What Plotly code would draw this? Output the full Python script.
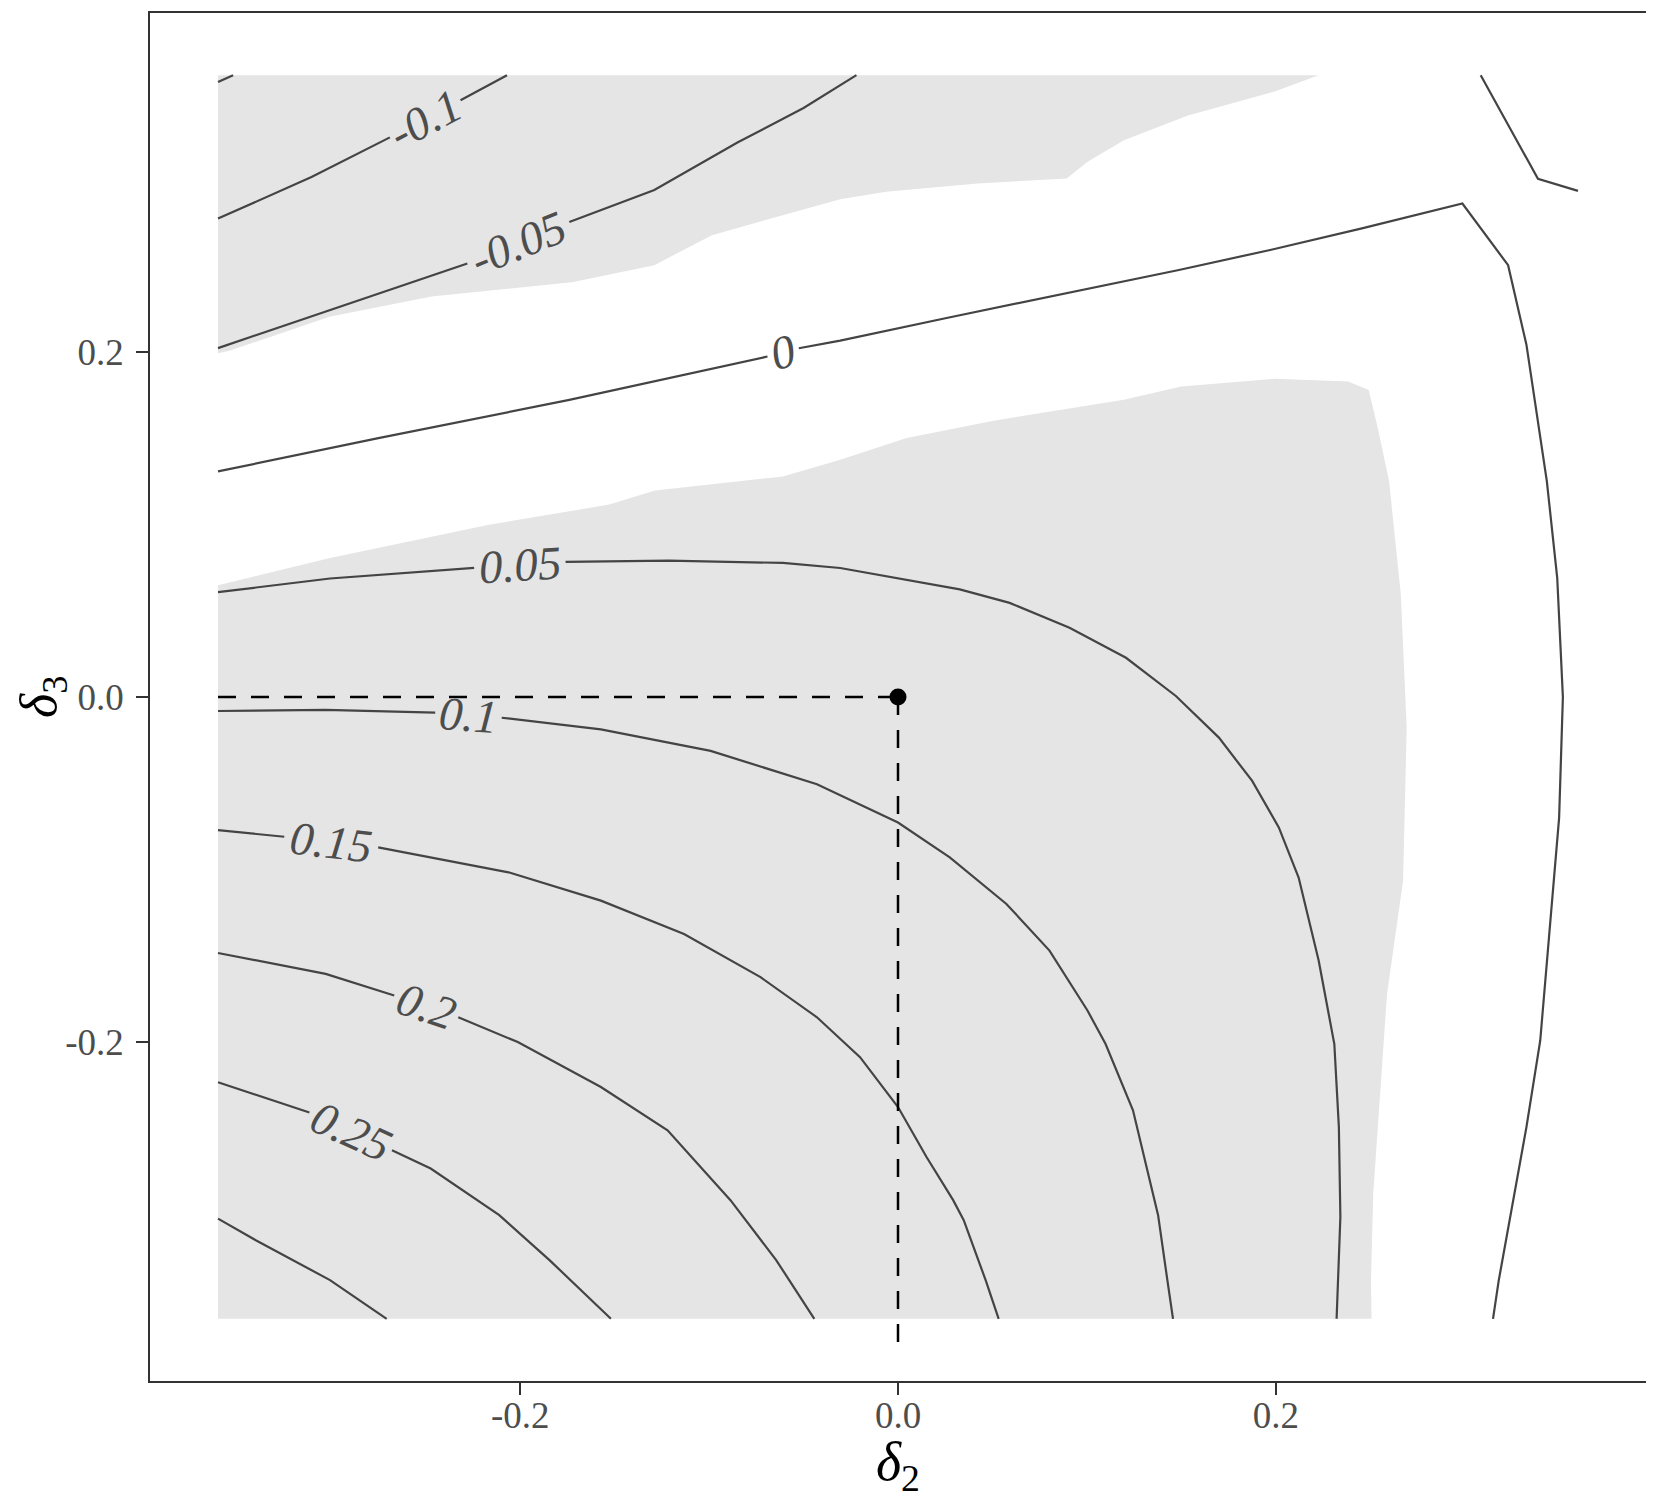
import math
import plotly.graph_objects as go

# gray regions (delta2, delta3)
upper_region_x = [-0.36, 0.2226, 0.1995, 0.1535, 0.1196, 0.1002, 0.0893, 0.0421, -0.0064,
                  -0.0306, -0.0985, -0.129, -0.1727, -0.2469, -0.301, -0.354, -0.36]
upper_region_y = [0.36, 0.36, 0.3506, 0.3367, 0.3224, 0.3098, 0.3002, 0.2973, 0.2925,
                  0.2882, 0.2674, 0.25, 0.2401, 0.2318, 0.2202, 0.2004, 0.199]

lower_region_x = [-0.36, -0.36, -0.3007, -0.2159, -0.1529, -0.1287, -0.0609, -0.0306, 0.0046,
                  0.0506, 0.1196, 0.1499, 0.1995, 0.2383, 0.2492, 0.254, 0.26, 0.2662,
                  0.2693, 0.2674, 0.2589, 0.2516, 0.2504, 0.2507]
lower_region_y = [-0.36, 0.0647, 0.0805, 0.0998, 0.1114, 0.1195, 0.1277, 0.1373, 0.1499,
                  0.16, 0.1721, 0.1798, 0.1842, 0.1827, 0.1778, 0.1557, 0.1249, 0.0594,
                  -0.0177, -0.1064, -0.1719, -0.2874, -0.3376, -0.36]

# contour lines, None marks the gap where the label sits
x_m015 = [-0.36, -0.352]
y_m015 = [0.356, 0.36]

x_m010 = [-0.36, -0.3105, -0.269, None, -0.2316, -0.207]
y_m010 = [0.277, 0.301, 0.324, None, 0.3455, 0.36]

x_m005 = [-0.36, -0.228, None, -0.174, -0.129, -0.085, -0.05, -0.022]
y_m005 = [0.202, 0.251, None, 0.275, 0.2935, 0.321, 0.341, 0.36]

x_000 = [-0.36, -0.2751, -0.174, -0.0691, None, -0.0525, -0.0306, 0.0251, 0.0857, 0.1487,
         0.197, 0.2456, 0.2988, 0.323, 0.3327, 0.3435, 0.349, 0.352, 0.35, 0.346, 0.34,
         0.3327, 0.318, 0.315]
y_000 = [0.1306, 0.1499, 0.172, 0.1971, None, 0.2019, 0.2063, 0.2193, 0.2328, 0.2472,
         0.2588, 0.2713, 0.2857, 0.25, 0.204, 0.125, 0.069, 0.0, -0.07, -0.12, -0.199,
         -0.249, -0.338, -0.36]

x_000b = [0.3085, 0.3388, 0.36]
y_000b = [0.36, 0.3, 0.293]

x_005 = [-0.36, -0.3007, -0.2244, None, -0.176, -0.1214, -0.0609, -0.0306, 0.0327, 0.0591,
         0.0908, 0.1207, 0.1471, 0.1699, 0.1875, 0.2016, 0.2121, 0.2227, 0.231, 0.2334,
         0.2342, 0.233, 0.2322]
y_005 = [0.0607, 0.0686, 0.0748, None, 0.0782, 0.079, 0.0776, 0.0747, 0.0623, 0.0545,
         0.0401, 0.0227, 0.0006, -0.0235, -0.0486, -0.0755, -0.1045, -0.1526, -0.2009, -0.249,
         -0.301, -0.3376, -0.36]

x_010 = [-0.36, -0.303, -0.245, None, -0.2098, -0.1573, -0.0992, -0.0429, 0.0, 0.0274,
         0.0574, 0.0802, 0.1003, 0.1099, 0.1244, 0.1377, 0.1426, 0.1456]
y_010 = [-0.0081, -0.0075, -0.0091, None, -0.012, -0.0187, -0.0312, -0.0505, -0.0727, -0.0929,
         -0.1198, -0.1468, -0.1815, -0.2009, -0.2393, -0.3, -0.3376, -0.36]

x_015 = [-0.36, -0.3249, None, -0.2752, -0.2062, -0.1573, -0.1133, -0.0728, -0.0429, -0.0201,
         0.0, 0.0151, 0.0292, 0.0348, 0.0464, 0.0533]
y_015 = [-0.0771, -0.0809, None, -0.0871, -0.1015, -0.1179, -0.1372, -0.1622, -0.1854, -0.2085,
         -0.2374, -0.2663, -0.2913, -0.3029, -0.3376, -0.36]

x_020 = [-0.36, -0.303, -0.2667, None, -0.2328, -0.2013, -0.1573, -0.122, -0.0887, -0.0645, -0.0443]
y_020 = [-0.1482, -0.1603, -0.1728, None, -0.1854, -0.1998, -0.2258, -0.2509, -0.2913, -0.326, -0.36]

x_025 = [-0.36, -0.3116, None, -0.2679, -0.2474, -0.2111, -0.1845, -0.152]
y_025 = [-0.223, -0.2406, None, -0.2624, -0.273, -0.3, -0.326, -0.36]

x_030 = [-0.36, -0.34, -0.3007, -0.2707]
y_030 = [-0.302, -0.3145, -0.3376, -0.36]

contours = [
    (x_m015, y_m015, None), (x_m010, y_m010, "-0.1"), (x_m005, y_m005, "-0.05"),
    (x_000, y_000, "0"), (x_000b, y_000b, None), (x_005, y_005, "0.05"),
    (x_010, y_010, "0.1"), (x_015, y_015, "0.15"), (x_020, y_020, "0.2"),
    (x_025, y_025, "0.25"), (x_030, y_030, None),
]

# reference point and its guides
point_x, point_y = 0.0, 0.0
guide_h_x, guide_h_y = [-0.36, 0.0], [0.0, 0.0]
guide_v_x, guide_v_y = [0.0, 0.0], [0.0, -0.376]

tick_vals = [-0.2, 0.0, 0.2]
tick_text = ["-0.2", "0.0", "0.2"]

W, H = 1646, 1490
M = dict(l=142, r=8, t=3, b=117)
RNG = [-0.396, 0.396]
sx = (W - M["l"] - M["r"]) / (RNG[1] - RNG[0])
sy = (H - M["t"] - M["b"]) / (RNG[1] - RNG[0])

SERIF = "Liberation Serif"
LINE = "#444444"

fig = go.Figure()
for rx, ry in [(upper_region_x, upper_region_y), (lower_region_x, lower_region_y)]:
    fig.add_trace(go.Scatter(x=rx, y=ry, mode="lines", fill="toself",
                             fillcolor="#e5e5e5", line=dict(width=0), hoverinfo="skip"))

annotations = []
for cx, cy, lab in contours:
    fig.add_trace(go.Scatter(x=cx, y=cy, mode="lines", line=dict(color=LINE, width=2.2)))
    if lab is None:
        continue
    i = cx.index(None)
    x0, y0, x1, y1 = cx[i - 1], cy[i - 1], cx[i + 1], cy[i + 1]
    ang = math.degrees(math.atan2((y1 - y0) * sy, (x1 - x0) * sx))
    annotations.append(dict(x=(x0 + x1) / 2, y=(y0 + y1) / 2, text="<i>%s</i>" % lab,
                            textangle=-ang, showarrow=False,
                            font=dict(family=SERIF, size=47, color="#4d4d4d")))

for gx, gy in [(guide_h_x, guide_h_y), (guide_v_x, guide_v_y)]:
    fig.add_trace(go.Scatter(x=gx, y=gy, mode="lines",
                             line=dict(color="black", width=2.5, dash="18px,15px")))
fig.add_trace(go.Scatter(x=[point_x], y=[point_y], mode="markers",
                         marker=dict(color="black", size=17)))

# axis titles
annotations.append(dict(x=0.5, y=0, xref="paper", yref="paper", yanchor="middle",
                        yshift=-84, showarrow=False, text="<i>δ</i><sub>2</sub>",
                        font=dict(family=SERIF, size=54, color="black")))
annotations.append(dict(x=0, y=0.5, xref="paper", yref="paper", xanchor="center",
                        xshift=-108, showarrow=False, textangle=-90,
                        text="<i>δ</i><sub>3</sub>",
                        font=dict(family=SERIF, size=52, color="black")))

axis = dict(range=RNG, showgrid=False, zeroline=False, showline=True, mirror=True,
            linecolor="#333333", linewidth=1.5, ticks="outside", ticklen=12,
            tickwidth=1.5, tickcolor="#333333", tickvals=tick_vals, ticktext=tick_text,
            tickfont=dict(family=SERIF, size=37, color="#4d4d4d"))

fig.update_layout(
    width=W, height=H, margin=M, showlegend=False,
    plot_bgcolor="white", paper_bgcolor="white",
    xaxis=dict(axis, ticklabelstandoff=-11),
    yaxis=dict(axis, ticklabelstandoff=5),
    annotations=annotations,
)

fig.write_html("out.html")
